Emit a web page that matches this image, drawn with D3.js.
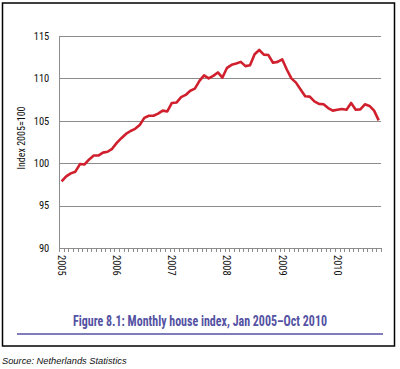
<!DOCTYPE html>
<html>
<head>
<meta charset="utf-8">
<script src="https://cdn.jsdelivr.net/npm/d3@7/dist/d3.min.js"></script>
<style>
  html, body { margin: 0; padding: 0; background: #fff; }
  svg { display: block; }
  .narrow { font-family: "Liberation Sans Narrow", "Arial Narrow", "Roboto Condensed", "Liberation Sans", Arial, sans-serif; }
</style>
</head>
<body>
<svg id="chart" width="400" height="369"></svg>
<script>
// ---- Data ----
const years = ["2005", "2006", "2007", "2008", "2009", "2010"];
const monthNames = ["Jan","Feb","Mar","Apr","May","Jun","Jul","Aug","Sep","Oct","Nov","Dec"];
const yTicks = [90, 95, 100, 105, 110, 115];
const yLabel = "Index 2005=100";
const title = "Figure 8.1: Monthly house index, Jan 2005\u2013Oct 2010";
const source = "Source: Netherlands Statistics";

// Monthly index values, Jan 2005 – Oct 2010
const indexValues = [
  97.85, 98.45, 98.8, 99.0, 99.9, 99.85, 100.45, 100.9, 100.9, 101.25, 101.35, 101.7,   // 2005
  102.4, 102.95, 103.45, 103.8, 104.05, 104.5, 105.35, 105.6, 105.6, 105.85, 106.2, 106.1, // 2006
  107.1, 107.15, 107.8, 108.05, 108.55, 108.8, 109.7, 110.35, 110.0, 110.3, 110.7, 110.1, // 2007
  111.25, 111.6, 111.75, 111.95, 111.45, 111.55, 112.85, 113.35, 112.8, 112.75, 111.85, 111.95, // 2008
  112.25, 111.05, 110.0, 109.5, 108.7, 107.9, 107.85, 107.3, 107.0, 106.95, 106.5, 106.2, // 2009
  106.3, 106.4, 106.3, 107.1, 106.3, 106.35, 106.95, 106.75, 106.2, 105.05              // 2010
];

// Category keys (year-month) built from the label arrays
const categories = [];
years.forEach(y => monthNames.forEach(m => categories.push(y + "-" + m)));
categories.length = indexValues.length;

// ---- Layout ----
const svg = d3.select("#chart");
const plot = { left: 59.3, right: 381, top: 36, bottom: 248 };
const lineColor = "#d0202e";
const gridColor = "#8c8c8c";
const titleColor = "#5452a3";

svg.append("rect").attr("width", 400).attr("height", 369).attr("fill", "#fff");

// frame
svg.append("rect")
  .attr("x", 2.5).attr("y", 3).attr("width", 392).attr("height", 343)
  .attr("fill", "none").attr("stroke", "#000").attr("stroke-width", 1.5);

const x = d3.scaleBand().domain(categories).range([plot.left, plot.right]).padding(0);
const y = d3.scaleLinear().domain([90, 115]).range([plot.bottom, plot.top]);

// gridlines (horizontal)
svg.append("g").selectAll("line")
  .data(yTicks.filter(t => t > 90))
  .join("line")
  .attr("x1", plot.left).attr("x2", plot.right)
  .attr("y1", d => Math.round(y(d)) + 0.5).attr("y2", d => Math.round(y(d)) + 0.5)
  .attr("stroke", gridColor).attr("stroke-width", 1);

// y axis via d3.axisLeft (labels only, no tick marks)
const yAxis = svg.append("g")
  .attr("class", "narrow")
  .attr("transform", `translate(${plot.left},0)`)
  .call(d3.axisLeft(y).tickValues(yTicks).tickSize(0).tickPadding(10).tickFormat(d3.format("d")));
yAxis.select(".domain").remove();
yAxis.selectAll("text").attr("font-size", 10.5).attr("fill", "#111")
  .attr("font-family", null);

// y axis line
svg.append("line")
  .attr("x1", Math.round(plot.left) + 0.5).attr("x2", Math.round(plot.left) + 0.5)
  .attr("y1", plot.top).attr("y2", plot.bottom + 4)
  .attr("stroke", gridColor).attr("stroke-width", 1);

// x axis: boundaries between monthly categories
const boundaries = categories.map(c => x(c)).concat([x(categories[categories.length - 1]) + x.bandwidth()]);
svg.append("line")
  .attr("x1", plot.left).attr("x2", plot.right)
  .attr("y1", Math.round(plot.bottom) + 0.5).attr("y2", Math.round(plot.bottom) + 0.5)
  .attr("stroke", gridColor).attr("stroke-width", 1);
svg.append("g").selectAll("line")
  .data(boundaries)
  .join("line")
  .attr("x1", d => Math.round(d) + 0.5).attr("x2", d => Math.round(d) + 0.5)
  .attr("y1", plot.bottom).attr("y2", plot.bottom + 4)
  .attr("stroke", gridColor).attr("stroke-width", 1);

// x labels (year at January category centre), rotated
svg.append("g").attr("class", "narrow").selectAll("text")
  .data(years)
  .join("text")
  .attr("transform", d => `translate(${x(d + "-Jan") + x.bandwidth() / 2},255) rotate(90)`)
  .attr("text-anchor", "start")
  .attr("dy", "0.35em")
  .attr("font-size", 10.5)
  .attr("fill", "#111")
  .text(d => d);

// y axis title
svg.append("text")
  .attr("class", "narrow")
  .attr("transform", "translate(21,138) rotate(-90)")
  .attr("text-anchor", "middle")
  .attr("dy", "0.35em")
  .attr("font-size", 10)
  .attr("fill", "#111")
  .text(yLabel);

// line
const line = d3.line()
  .x((d, i) => x(categories[i]) + x.bandwidth() / 2)
  .y(d => y(d))
  .curve(d3.curveLinear);
svg.append("path")
  .datum(indexValues)
  .attr("d", line)
  .attr("fill", "none")
  .attr("stroke", lineColor)
  .attr("stroke-width", 2.6)
  .attr("stroke-linejoin", "round")
  .attr("stroke-linecap", "butt");

// title
svg.append("text")
  .attr("class", "narrow")
  .attr("x", 200).attr("y", 325.5)
  .attr("text-anchor", "middle")
  .attr("font-size", 14.5)
  .attr("font-weight", "bold")
  .attr("fill", titleColor)
  .attr("textLength", 254)
  .attr("lengthAdjust", "spacingAndGlyphs")
  .text(title);

svg.append("line")
  .attr("x1", 17).attr("x2", 383)
  .attr("y1", 334).attr("y2", 334)
  .attr("stroke", titleColor).attr("stroke-width", 1.5);

// source
svg.append("text")
  .attr("x", 2).attr("y", 364)
  .attr("font-family", "'Liberation Sans', Arial, sans-serif")
  .attr("font-style", "italic")
  .attr("font-size", 9.3)
  .attr("fill", "#111")
  .text(source);
</script>
</body>
</html>
